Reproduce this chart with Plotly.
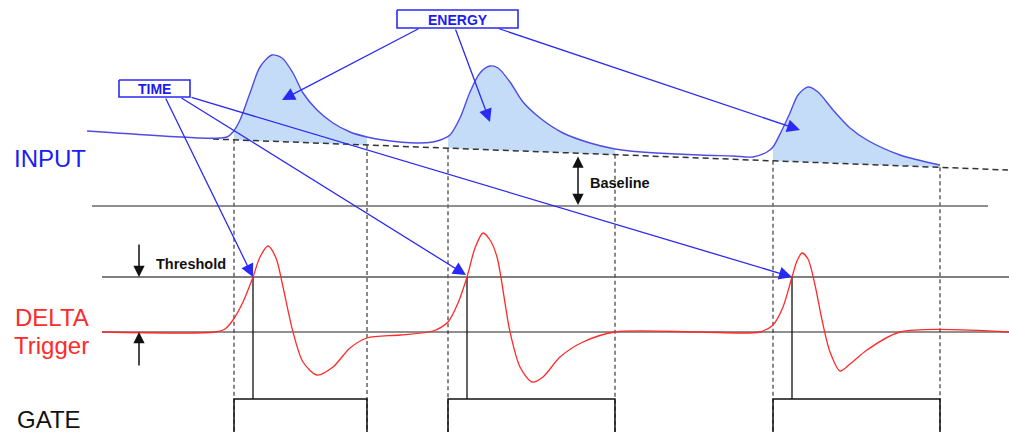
import numpy as np
import plotly.graph_objects as go

# ---------------- data ----------------
# INPUT trace (sampled points, drawn as a smooth spline)
input_x = [87, 200, 220, 227, 233, 240, 250, 260, 272, 282, 293, 303, 317, 333, 350, 367,
           383, 417, 433, 443, 450, 460, 470, 480, 490, 498, 510, 523, 540, 563, 590, 615,
           630, 700, 733, 753, 767, 773, 782, 790, 798, 808, 818, 833, 850, 867, 900, 940]
input_y = [131, 138, 138, 137, 132, 120, 93, 67, 55, 58, 73, 93, 110, 123, 132, 137,
           140, 143, 142, 139, 135, 118, 92, 73, 66, 68, 82, 102, 118, 133, 143, 149,
           151, 155, 156, 157, 152, 147, 130, 113, 95, 87, 92, 110, 128, 140, 155, 165]

# dashed baseline under the input trace (two end points)
baseline_x = [213, 1008]
baseline_y = [139, 170]

# DELTA trigger trace
delta_x = [102, 215, 225, 233, 243, 253, 260, 268, 276, 283, 293, 303, 317, 333, 350, 367,
           400, 433, 448, 458, 467, 475, 483, 490, 497, 510, 520, 532, 543, 560, 583, 615,
           700, 760, 773, 783, 792, 797, 802, 808, 815, 822, 830, 840, 850, 867, 900, 1009]
delta_y = [332, 332, 329, 320, 302, 277, 257, 246, 258, 287, 332, 362, 375, 367, 348, 338,
           335, 331, 322, 303, 277, 248, 233, 240, 257, 332, 367, 382, 377, 357, 342, 332,
           332, 332, 325, 307, 277, 261, 253, 259, 285, 320, 352, 371, 364, 350, 332, 332]

# gate windows and trigger (threshold crossing) times
gate_start = [234, 448, 773]
gate_end = [367, 615, 940]
trigger_x = [253, 467, 792]

# levels
divider_y = 206
threshold_y = 277
zero_y = 332
gate_top_y = 399
bottom_y = 432

# label boxes: x0, x1, y0, y1
time_box = [119, 190, 80, 97]
energy_box = [397, 518, 10, 28]

# annotation arrows: tail -> head
time_tail_x = [165, 180, 190]
time_tail_y = [97, 97, 97]
time_head_x = [253, 466, 792]
time_head_y = [277, 275, 277]
energy_tail_x = [420, 455, 497]
energy_tail_y = [28, 28, 28]
energy_head_x = [282, 490, 800]
energy_head_y = [100, 122, 130]

# ---------------- styles ----------------
BLUE_TXT = "#1c1cf2"
BLUE_LINE = "#4d4de6"
BLUE_ARROW = "#2a2af5"
FILL = "rgba(196,220,248,1)"
RED = "#ff2a2a"
FONT = "Liberation Sans, Arial, sans-serif"


def base_at(x):
    return float(np.interp(x, baseline_x, baseline_y))


fig = go.Figure()

# filled pulses (between input trace and baseline)
ix = np.array(input_x)
iy = np.array(input_y)
for s, e in zip(gate_start, gate_end):
    m = (ix >= s - 1) & (ix <= e + 1)
    px = list(ix[m]) + [e, s, s]
    py = list(iy[m]) + [base_at(e), base_at(s), iy[m][0]]
    fig.add_trace(go.Scatter(x=px, y=py, mode="lines", fill="toself", fillcolor=FILL,
                             line=dict(width=0, color=FILL, shape="linear"),
                             hoverinfo="skip", showlegend=False))

# dashed baseline
fig.add_trace(go.Scatter(x=baseline_x, y=baseline_y, mode="lines",
                         line=dict(color="#333333", width=1.5, dash="6px,4px"),
                         showlegend=False, hoverinfo="skip"))

# dashed vertical guides
for gx in gate_start + gate_end:
    fig.add_trace(go.Scatter(x=[gx, gx], y=[base_at(gx), bottom_y], mode="lines",
                             line=dict(color="#3a3a3a", width=1.2, dash="4px,3px"),
                             showlegend=False, hoverinfo="skip"))

# input trace
fig.add_trace(go.Scatter(x=input_x, y=input_y, mode="lines",
                         line=dict(color=BLUE_LINE, width=1.4, shape="spline", smoothing=0.8),
                         showlegend=False, hoverinfo="skip"))

# horizontal reference lines
fig.add_trace(go.Scatter(x=[92, 988], y=[divider_y, divider_y], mode="lines",
                         line=dict(color="#6a6a6a", width=1.5), showlegend=False, hoverinfo="skip"))
fig.add_trace(go.Scatter(x=[102, 1009], y=[threshold_y, threshold_y], mode="lines",
                         line=dict(color="#555555", width=1.5), showlegend=False, hoverinfo="skip"))
fig.add_trace(go.Scatter(x=[102, 1009], y=[zero_y, zero_y], mode="lines",
                         line=dict(color="#222222", width=1.2), showlegend=False, hoverinfo="skip"))

# trigger verticals
for tx in trigger_x:
    fig.add_trace(go.Scatter(x=[tx, tx], y=[threshold_y, gate_top_y], mode="lines",
                             line=dict(color="#111111", width=1.3), showlegend=False, hoverinfo="skip"))

# gate signal
for s, e in zip(gate_start, gate_end):
    fig.add_trace(go.Scatter(x=[s, s, e, e], y=[bottom_y, gate_top_y, gate_top_y, bottom_y],
                             mode="lines", line=dict(color="#111111", width=1.5),
                             showlegend=False, hoverinfo="skip"))

# delta trigger trace
fig.add_trace(go.Scatter(x=delta_x, y=delta_y, mode="lines",
                         line=dict(color=RED, width=1.3, shape="spline", smoothing=0.8),
                         showlegend=False, hoverinfo="skip"))

# label boxes
for b in (time_box, energy_box):
    fig.add_trace(go.Scatter(x=[b[0], b[1], b[1], b[0], b[0]], y=[b[2], b[2], b[3], b[3], b[2]],
                             mode="lines", line=dict(color=BLUE_ARROW, width=1.6),
                             fill="toself", fillcolor="white",
                             showlegend=False, hoverinfo="skip"))

annotations = []


def arrow(hx, hy, tx, ty, color, width, size, head=2, side="end"):
    annotations.append(dict(x=hx, y=hy, ax=tx, ay=ty, xref="x", yref="y", axref="x", ayref="y",
                            showarrow=True, arrowhead=head, startarrowhead=head, arrowside=side,
                            arrowsize=size, startarrowsize=size,
                            arrowwidth=width, arrowcolor=color, text=""))


for hx, hy, tx, ty in zip(time_head_x, time_head_y, time_tail_x, time_tail_y):
    arrow(hx, hy, tx, ty, BLUE_ARROW, 1.3, 2.0)
for hx, hy, tx, ty in zip(energy_head_x, energy_head_y, energy_tail_x, energy_tail_y):
    arrow(hx, hy, tx, ty, BLUE_ARROW, 1.3, 2.0)

# black level arrows
arrow(139, threshold_y, 139, 243, "#111111", 1.5, 1.5)
arrow(139, zero_y, 139, 367, "#111111", 1.5, 1.5)
arrow(578, 205, 578, 155, "#111111", 1.5, 1.5, side="end+start")


def text(x, y, s, size, color, bold=False, xanchor="center"):
    annotations.append(dict(x=x, y=y, xref="x", yref="y", text=f"<b>{s}</b>" if bold else s,
                            showarrow=False, xanchor=xanchor, yanchor="middle",
                            font=dict(family=FONT, size=size, color=color)))


text(12, 158, "INPUT", 24, BLUE_TXT, xanchor="left")
text(91, 317, "DELTA", 24, RED, xanchor="right")
text(91, 345, "Trigger", 24, RED, xanchor="right")
text(15, 419, "GATE", 24, "#111111", xanchor="left")
text((time_box[0] + time_box[1]) / 2, (time_box[2] + time_box[3]) / 2 + 0.5, "TIME", 14, BLUE_TXT, bold=True)
text((energy_box[0] + energy_box[1]) / 2, (energy_box[2] + energy_box[3]) / 2 + 0.5, "ENERGY", 14, BLUE_TXT, bold=True)
text(154, 264, "Threshold", 14.5, "#111111", bold=True, xanchor="left")
text(588, 183, "Baseline", 14.5, "#111111", bold=True, xanchor="left")

fig.update_layout(
    width=1009, height=432,
    margin=dict(l=0, r=0, t=0, b=0),
    paper_bgcolor="white", plot_bgcolor="white",
    xaxis=dict(range=[0, 1009], visible=False, fixedrange=True),
    yaxis=dict(range=[432, 0], visible=False, fixedrange=True),
    annotations=annotations,
    showlegend=False,
)

fig.write_html("out.html",
               post_script="document.body.style.margin='0';document.body.style.overflow='hidden';",
               config={"displayModeBar": False})
